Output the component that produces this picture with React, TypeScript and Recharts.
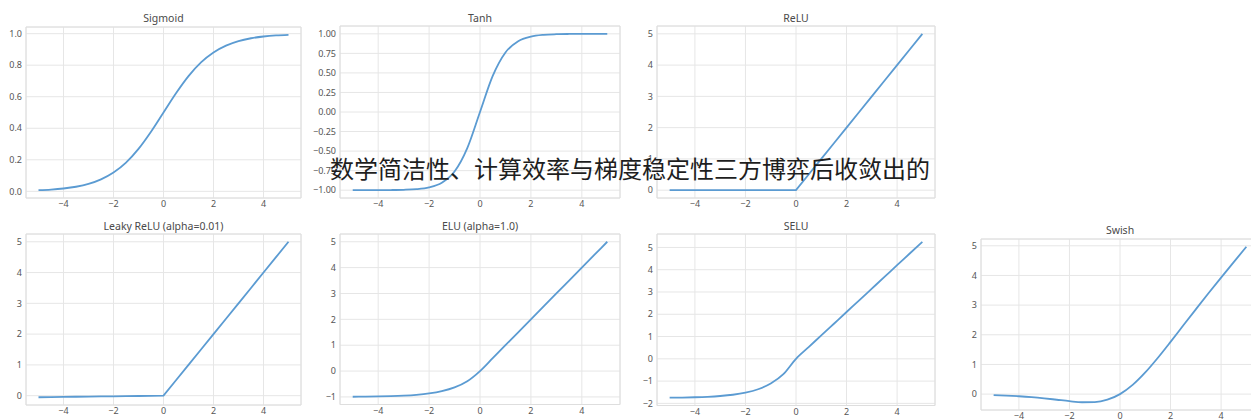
import React from "react";
import { LineChart, Line, XAxis, YAxis, CartesianGrid, ReferenceArea } from "recharts";

// ---- data ----
const xs = [-5, -4.5, -4, -3.5, -3, -2.5, -2, -1.5, -1, -0.5, 0, 0.5, 1, 1.5, 2, 2.5, 3, 3.5, 4, 4.5, 5];

const sigmoidY = [0.007, 0.011, 0.018, 0.029, 0.047, 0.076, 0.119, 0.182, 0.269, 0.378, 0.5, 0.622, 0.731, 0.818, 0.881, 0.924, 0.953, 0.971, 0.982, 0.989, 0.993];
const tanhY = [-1.0, -1.0, -0.999, -0.998, -0.995, -0.987, -0.964, -0.905, -0.762, -0.462, 0, 0.462, 0.762, 0.905, 0.964, 0.987, 0.995, 0.998, 0.999, 1.0, 1.0];
const reluY = [0, 0, 0, 0, 0, 0, 0, 0, 0, 0, 0, 0.5, 1, 1.5, 2, 2.5, 3, 3.5, 4, 4.5, 5];
const leakyY = [-0.05, -0.045, -0.04, -0.035, -0.03, -0.025, -0.02, -0.015, -0.01, -0.005, 0, 0.5, 1, 1.5, 2, 2.5, 3, 3.5, 4, 4.5, 5];
const eluY = [-0.993, -0.989, -0.982, -0.97, -0.95, -0.918, -0.865, -0.777, -0.632, -0.393, 0, 0.5, 1, 1.5, 2, 2.5, 3, 3.5, 4, 4.5, 5];
const seluY = [-1.746, -1.739, -1.726, -1.705, -1.67, -1.614, -1.52, -1.366, -1.111, -0.692, 0, 0.525, 1.051, 1.576, 2.101, 2.627, 3.152, 3.677, 4.203, 4.728, 5.254];
const swishY = [-0.034, -0.05, -0.072, -0.102, -0.142, -0.19, -0.238, -0.274, -0.269, -0.189, 0, 0.311, 0.731, 1.227, 1.762, 2.311, 2.858, 3.399, 3.928, 4.45, 4.967];

const xTicks = [-4, -2, 0, 2, 4];
const sigmoidTicks = [0, 0.2, 0.4, 0.6, 0.8, 1.0];
const tanhTicks = [-1, -0.75, -0.5, -0.25, 0, 0.25, 0.5, 0.75, 1];
const reluTicks = [0, 1, 2, 3, 4, 5];
const leakyTicks = [0, 1, 2, 3, 4, 5];
const eluTicks = [-1, 0, 1, 2, 3, 4, 5];
const seluTicks = [-2, -1, 0, 1, 2, 3, 4, 5];
const swishTicks = [0, 1, 2, 3, 4, 5];

const titles = ["Sigmoid", "Tanh", "ReLU", "Leaky ReLU (alpha=0.01)", "ELU (alpha=1.0)", "SELU", "Swish"];
const caption = "数学简洁性、计算效率与梯度稳定性三方博弈后收敛出的";

// ---- layout / style ----
const LINE = "#5b9bd2";
const GRID = "#e6e6e6";
const FRAME = "#dedede";
const TXT = "#555555";
const FONT = "'Noto Sans', 'Open Sans', sans-serif";

type Panel = {
  title: string;
  ys: number[];
  yTicks: number[];
  dec: number;
  curve: "monotone" | "linear";
  box: [number, number, number, number]; // left, top, right, bottom of plot area
  titleY: number;
};

const panels: Panel[] = [
  { title: titles[0], ys: sigmoidY, yTicks: sigmoidTicks, dec: 1, curve: "monotone", box: [26, 27, 301, 198], titleY: 17.5 },
  { title: titles[1], ys: tanhY, yTicks: tanhTicks, dec: 2, curve: "monotone", box: [340, 26, 620, 198], titleY: 17.5 },
  { title: titles[2], ys: reluY, yTicks: reluTicks, dec: 0, curve: "linear", box: [657, 26, 935, 198], titleY: 17.5 },
  { title: titles[3], ys: leakyY, yTicks: leakyTicks, dec: 0, curve: "linear", box: [26, 234, 301, 405], titleY: 226 },
  { title: titles[4], ys: eluY, yTicks: eluTicks, dec: 0, curve: "monotone", box: [340, 234, 620, 404.5], titleY: 226 },
  { title: titles[5], ys: seluY, yTicks: seluTicks, dec: 0, curve: "monotone", box: [657, 234, 935, 405.5], titleY: 226 },
  { title: titles[6], ys: swishY, yTicks: swishTicks, dec: 0, curve: "monotone", box: [981, 239, 1259, 410], titleY: 230 },
];

const fmt = (d: number) => (v: number) => {
  const s = Math.abs(v).toFixed(d);
  return v < -1e-9 ? "\u2212" + s : s;
};

const PAD_L = 32;
const PAD_T = 4;
const PAD_R = 4;
const PAD_B = 16;

function Subplot({ p }: { p: Panel }) {
  const [l, t, r, b] = p.box;
  const data = xs.map((x, i) => ({ x, y: p.ys[i] }));
  const mn = Math.min(...p.ys);
  const mx = Math.max(...p.ys);
  const m = (mx - mn) * 0.05;
  const dom: [number, number] = [mn - m, mx + m];
  const w = r - l + PAD_L + PAD_R;
  const h = b - t + PAD_T + PAD_B;
  return (
    <>
      <div
        style={{
          position: "absolute",
          left: l,
          width: r - l,
          top: p.titleY - 7,
          height: 14,
          lineHeight: "14px",
          textAlign: "center",
          fontFamily: FONT,
          fontSize: 10.5,
          color: "#4a4a4a",
          whiteSpace: "nowrap",
        }}
      >
        {p.title}
      </div>
      <div style={{ position: "absolute", left: l - PAD_L, top: t - PAD_T }}>
        <LineChart width={w} height={h} data={data} margin={{ top: PAD_T, right: PAD_R, left: 0, bottom: 0 }}>
          <CartesianGrid stroke={GRID} strokeWidth={1} />
          <XAxis
            dataKey="x"
            type="number"
            domain={[-5.5, 5.5]}
            ticks={xTicks}
            interval={0}
            height={PAD_B}
            tickLine={false}
            axisLine={false}
            tickSize={0}
            tickMargin={3}
            tickFormatter={fmt(0)}
            tick={{ fill: TXT, fontSize: 9, fontFamily: FONT }}
          />
          <YAxis
            type="number"
            domain={dom}
            ticks={p.yTicks}
            interval={0}
            width={PAD_L}
            tickLine={false}
            axisLine={false}
            tickSize={0}
            tickMargin={4}
            tickFormatter={fmt(p.dec)}
            tick={{ fill: TXT, fontSize: 9, fontFamily: FONT }}
          />
          <ReferenceArea
            x1={-5.5}
            x2={5.5}
            y1={dom[0]}
            y2={dom[1]}
            fill="none"
            fillOpacity={0}
            stroke={FRAME}
            strokeWidth={1}
            ifOverflow="visible"
          />
          <Line
            type={p.curve}
            dataKey="y"
            stroke={LINE}
            strokeWidth={1.8}
            dot={false}
            activeDot={false}
            isAnimationActive={false}
          />
        </LineChart>
      </div>
    </>
  );
}

export default function App() {
  return (
    <div
      style={{
        position: "absolute",
        left: 0,
        top: 0,
        width: 1251,
        height: 419,
        overflow: "hidden",
        background: "#ffffff",
      }}
    >
      {panels.map((p) => (
        <Subplot key={p.title} p={p} />
      ))}
      <div
        style={{
          position: "absolute",
          left: 330,
          top: 154,
          height: 28,
          lineHeight: "28px",
          fontSize: 24,
          fontFamily: "'Noto Sans CJK SC', sans-serif",
          color: "#1e1e1e",
          whiteSpace: "nowrap",
        }}
      >
        {caption}
      </div>
    </div>
  );
}
